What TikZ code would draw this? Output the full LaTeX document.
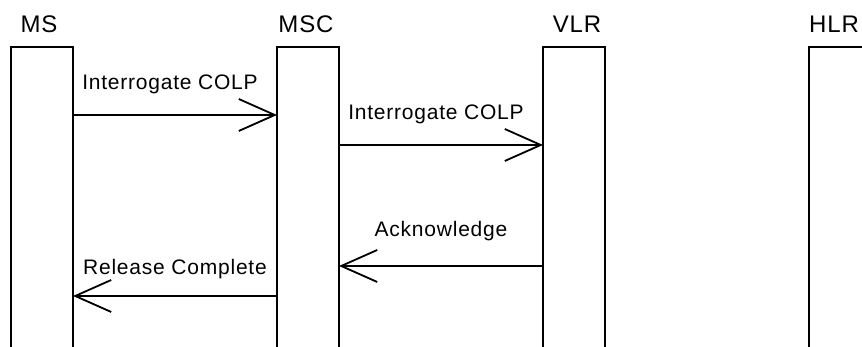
\documentclass[tikz,border=0pt]{standalone}
\usepackage{fontspec}
\setmainfont{Liberation Sans}[LetterSpace=3.7]
\usepackage{tikz}
\usetikzlibrary{calc}
\usetikzlibrary{arrows.meta}
\usetikzlibrary{positioning}

\begin{document}
\begin{tikzpicture}[x=1pt,y=1pt]
  % some styles
  \tikzset{
    entity/.style={
      rectangle,
      minimum width=62pt,
      minimum height=340pt,
      inner sep=0pt,
      outer sep=0pt,
      anchor=north,
      line width=1.8pt,
    draw
    }
  }
 \tikzset{head/.style={font=\fontsize{24}{28}\selectfont,anchor=base,inner sep=0pt}}
 \tikzset{msg/.style={line width=1.8pt,-{Straight Barb[length=36pt,width=32pt,line width=1.8pt]}}}
 \tikzset{lbl/.style={font=\fontsize{21}{25}\selectfont,anchor=base,inner sep=0pt}}

\useasboundingbox (0,0) rectangle (862,347);
\clip (0,0) rectangle (862,347);

\foreach \n/\x/\s/\t in {ms/42/-3/MS,msc/308/-2/MSC,vlr/574/3/VLR,hlr/840/-6/HLR} {
    \node[entity] (\n) at (\x,300) {};
    \node[head] (\n-head) at ($(\n.north)+(\s,14)$) {\t};
}

% messages
\draw[msg] ($(ms.north east)+(0,-68)$) -- node[lbl,xshift=-5pt,yshift=25pt] (m1) {Interrogate COLP} ($(msc.north west)+(0,-68)$);
\draw[msg] ($(msc.north east)+(0,-98)$) -- node[lbl,xshift=-5pt,yshift=25pt] (m2) {Interrogate COLP} ($(vlr.north west)+(0,-98)$);
\draw[msg] ($(vlr.north west)+(0,-219)$) -- node[lbl,yshift=29pt] (m3) {Acknowledge} ($(msc.north east)+(0,-219)$);
\draw[msg] ($(msc.north west)+(0,-249)$) -- node[lbl,yshift=21pt] (m4) {Release Complete} ($(ms.north east)+(0,-249)$);

\end{tikzpicture}
\end{document}
